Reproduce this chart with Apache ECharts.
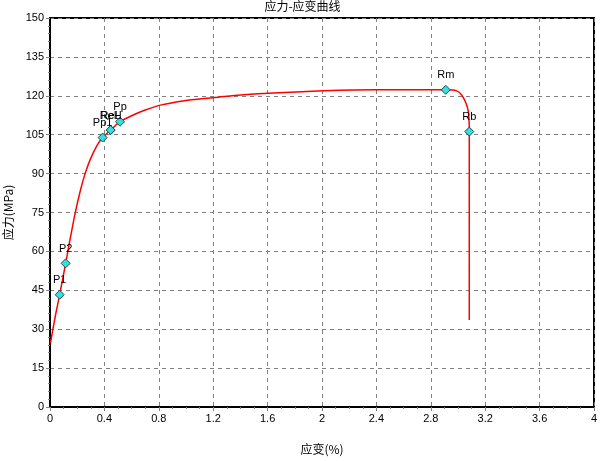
<!DOCTYPE html>
<html>
<head>
<meta charset="utf-8">
<script src="https://cdn.jsdelivr.net/npm/echarts@6/dist/echarts.min.js"></script>
<style>html,body{margin:0;padding:0;background:#fff}#c{width:605px;height:461px}</style>
</head>
<body>
<div id="c"></div>
<script>
const chartTitle = '应力-应变曲线';
const xName = '应变(%)';
const yName = '应力(MPa)';
const strain = [0.003, 0.037, 0.071, 0.115, 0.147, 0.184, 0.221, 0.257, 0.294, 0.343, 0.387, 0.446, 0.515, 0.60, 0.70, 0.82, 0.99, 1.14, 1.21, 1.40, 1.605, 2.01, 2.40, 2.91, 2.99, 3.027, 3.059, 3.076, 3.082, 3.083, 3.083];
const stress = [24.5, 34.5, 43.3, 55.4, 64.5, 74.5, 83.0, 89.8, 95.2, 100.6, 103.9, 106.8, 110.0, 112.3, 114.5, 116.5, 118.1, 119.0, 119.3, 120.3, 121.0, 121.9, 122.3, 122.3, 121.9, 120.3, 117.1, 113.9, 109.4, 106.2, 33.5];
const pointNames = ['P1', 'P2', 'Pp1', 'ReH', 'ReL', 'Pp', 'Rm', 'Rb'];
const pointX = [0.071, 0.115, 0.387, 0.446, 0.446, 0.515, 2.91, 3.083];
const pointY = [43.3, 55.4, 103.9, 106.8, 106.8, 110.0, 122.3, 106.2];

const font = "'Liberation Sans', Arial, sans-serif";
const cjk = "'Noto Sans CJK SC', sans-serif";
const chart = echarts.init(document.getElementById('c'), null, {renderer: 'canvas'});
const curve = strain.map((x, i) => [x, stress[i]]);
const pts = pointX.map((x, i) => ({name: pointNames[i], value: [x, pointY[i]]}));
const axisCommon = {
  axisLine: {show: true, onZero: false, lineStyle: {color: '#000', width: 2}},
  axisTick: {show: true, length: 4, lineStyle: {color: '#808080'}},
  minorTick: {show: true, length: 2, lineStyle: {color: '#808080'}},
  splitLine: {show: true, lineStyle: {color: '#808080', type: [4, 4], width: 1}},
  axisLabel: {color: '#000', fontSize: 11, fontFamily: font, margin: 6}
};
chart.setOption({
  animation: false,
  title: {text: chartTitle, left: 'center', top: 0, padding: 0, textStyle: {fontSize: 12, fontWeight: 'normal', color: '#000', fontFamily: cjk}},
  grid: {left: 50, right: 11, top: 18, bottom: 54, show: true, borderColor: '#000', borderWidth: 2, containLabel: false, outerBoundsMode: 'none'},
  xAxis: Object.assign({}, axisCommon, {
    type: 'value', min: 0, max: 4, interval: 0.4,
    minorTick: Object.assign({}, axisCommon.minorTick, {splitNumber: 4}),
    name: xName, nameLocation: 'middle', nameGap: 36,
    nameTextStyle: {fontSize: 12, color: '#000', fontFamily: cjk}
  }),
  yAxis: Object.assign({}, axisCommon, {
    type: 'value', min: 0, max: 150, interval: 15,
    minorTick: Object.assign({}, axisCommon.minorTick, {splitNumber: 5}),
    name: yName, nameLocation: 'middle', nameGap: 36, nameRotate: 90,
    nameTextStyle: {fontSize: 12, color: '#000', fontFamily: cjk}
  }),
  series: [
    {type: 'line', data: curve, showSymbol: false, smooth: 0.25, lineStyle: {color: '#ff0000', width: 1.5}, z: 2},
    {type: 'scatter', data: pts, symbol: 'diamond', symbolSize: 9,
     itemStyle: {color: '#33e0e0', borderColor: '#1a4f4f', borderWidth: 1, opacity: 1},
     label: {show: true, position: 'top', distance: 4, formatter: '{b}', color: '#000', fontSize: 11, fontFamily: font},
     z: 3}
  ]
});
</script>
</body>
</html>
